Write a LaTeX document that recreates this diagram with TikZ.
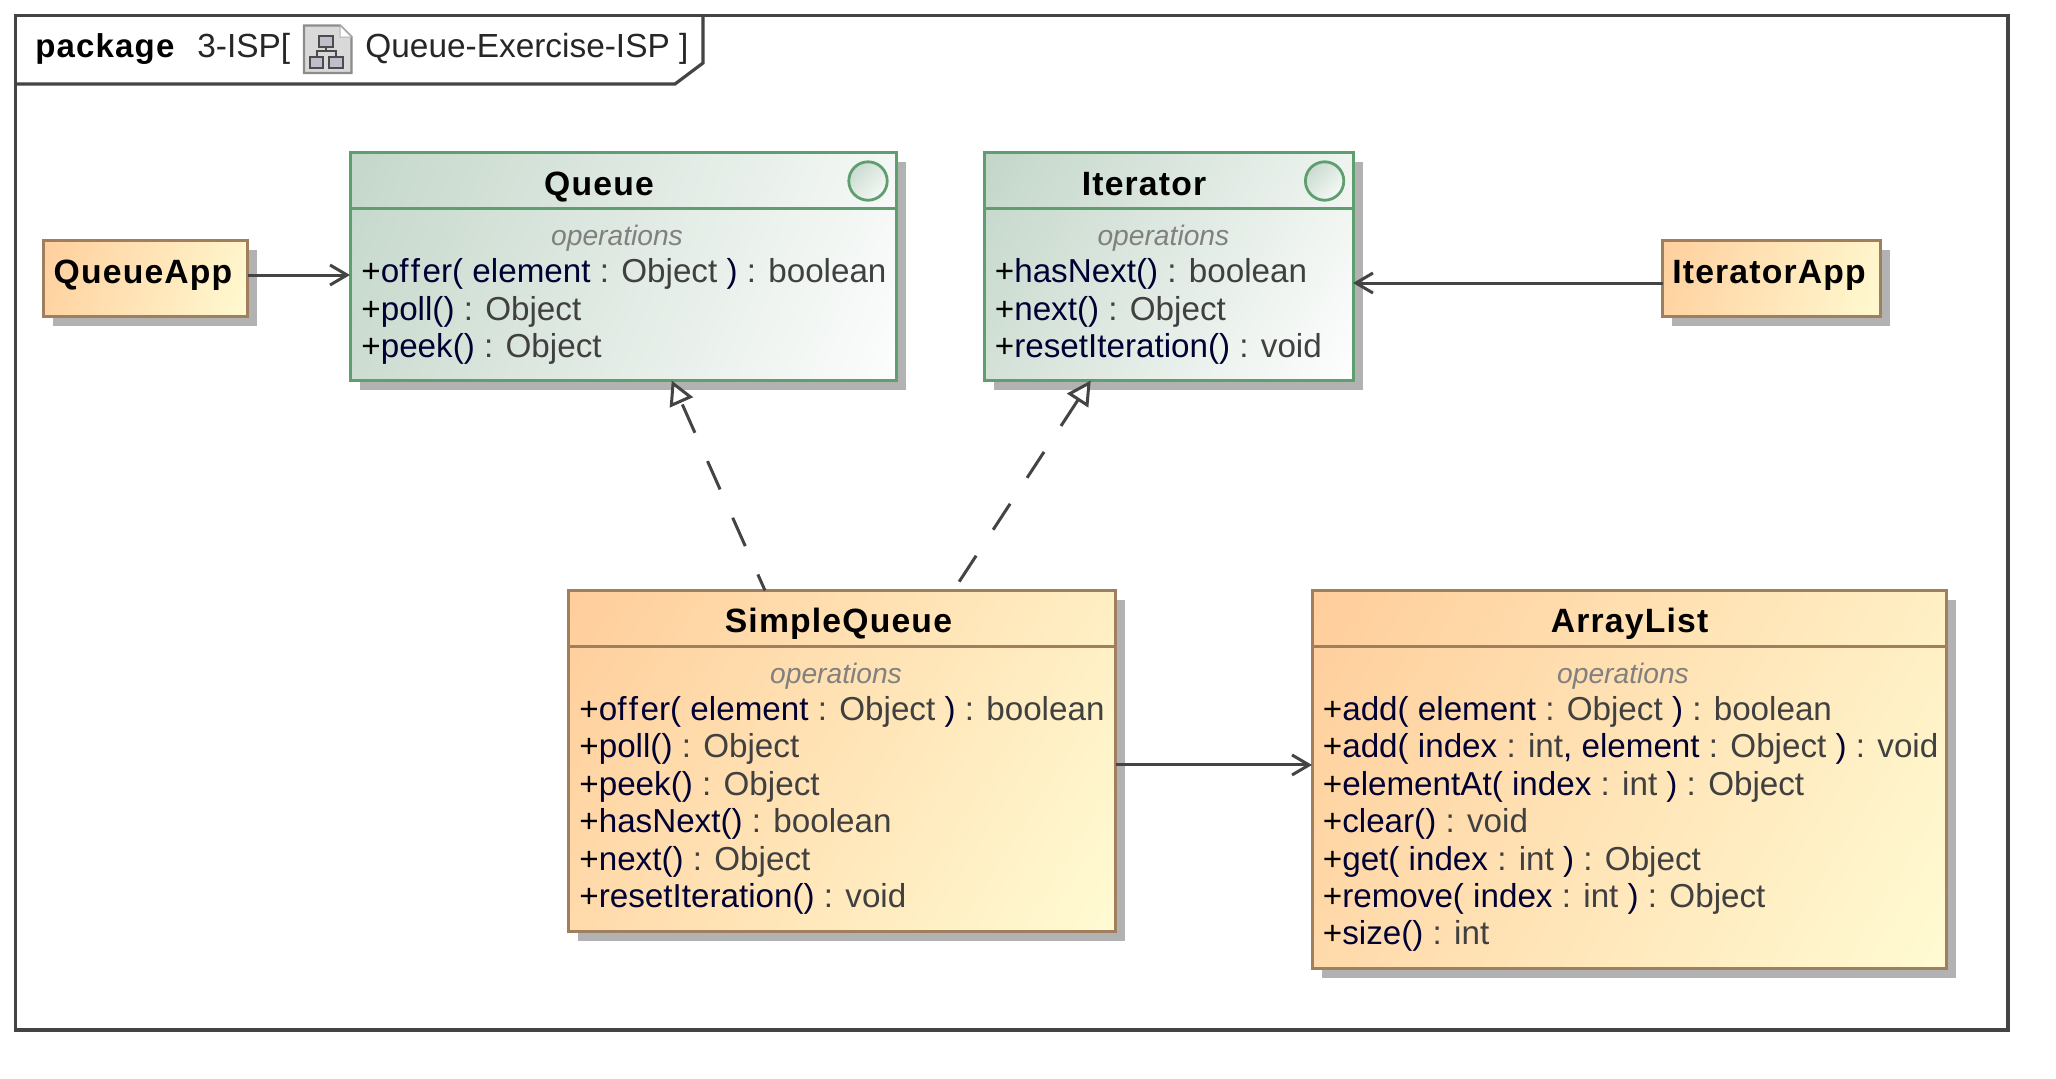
\documentclass[tikz,border=0pt]{standalone}
\usepackage{fontspec}
\setmainfont{Liberation Sans}
\newfontfamily\titlefont[LetterSpace=3.5]{Liberation Sans Bold}
\usetikzlibrary{arrows.meta,shadows}
\definecolor{framegray}{HTML}{444444}
\definecolor{typegray}{HTML}{404040}
\definecolor{opnavy}{HTML}{000033}
\definecolor{opsgray}{HTML}{808080}
\definecolor{shadowgray}{HTML}{B2B2B2}
\definecolor{orangeline}{HTML}{A07F5F}
\definecolor{orangedark}{HTML}{FFCB98}
\definecolor{orangelight}{HTML}{FFFCD4}
\definecolor{greenline}{HTML}{5F9E6E}
\definecolor{greendark}{HTML}{C0D4C6}
\pgfdeclareverticalshading{orangefill}{100bp}{color(0bp)=(orangelight); color(14bp)=(orangelight); color(88bp)=(orangedark); color(100bp)=(orangedark)}
\pgfdeclareverticalshading{greenfill}{100bp}{color(0bp)=(white); color(14bp)=(white); color(88bp)=(greendark); color(100bp)=(greendark)}
\newcommand{\nm}[1]{\textcolor{opnavy}{#1}}
\newcommand{\pl}{\textcolor{black}{+}}
\newcommand{\offerword}{of\kern1.2pt f\kern1.3pt er}
\begin{document}
\begin{tikzpicture}[%
      x=0.5pt,y=-0.5pt,
      umlbox/.style={rectangle,anchor=north west,outer sep=0pt,inner sep=0pt,line width=1.5pt,
        drop shadow={shadow xshift=4.75pt,shadow yshift=-4.75pt,fill=shadowgray,opacity=1}},
      orangebox/.style={umlbox,draw=orangeline,shade,shading=orangefill},
      greenbox/.style={umlbox,draw=greenline,shade,shading=greenfill},
      ifacemark/.style={circle,draw=greenline,line width=1.4pt,minimum size=19.2pt,inner sep=0pt,
        shade,shading=greenfill,shading angle=45},
      classtitle/.style={anchor=base,inner sep=0pt,font=\titlefont\fontsize{16.85}{18.7}\selectfont},
      opslabel/.style={anchor=base,inner sep=0pt,text=opsgray,font=\itshape\fontsize{14.1}{16}\selectfont},
      opslist/.style={anchor=north west,inner sep=0pt,align=left,text=typegray,font=\fontsize{16.6}{18.7}\selectfont},
      headtext/.style={anchor=base west,inner sep=0pt,text=black!85,font=\fontsize{16.7}{18}\selectfont},
      assoc/.style={draw=framegray,line width=1.5pt,-{Straight Barb[length=8.5pt,width=10pt]}},
      realize/.style={draw=framegray,line width=1.5pt,dash pattern=on 15.5pt off 15.5pt,
        -{Triangle[open,fill=white,length=12pt,width=12.5pt]}},
      ]
      \fill [white] (0,0) rectangle (2056,1078);
      \useasboundingbox (0,0) rectangle (2056,1078);

      % package frame
      \draw [color=framegray, line width=1.6pt] (15.7,15.7) rectangle (2008,1030);
      \draw [color=framegray, line width=1.6pt] (15.7,84) -- (675,84) -- (703,63) -- (703,15.7);

      \node (pkgword) [headtext, text=black, font=\titlefont\fontsize{16.5}{18}\selectfont] at (35,57) {package};
      \node (pkgname) [headtext] at (197,57) {3-ISP[};
      \node (pkgtitle) [headtext] at (365,57) {Queue-Exercise-ISP ]};

      % diagram icon
      \filldraw [fill=black!15, draw=black!45, line width=1.1pt] (304,25.5) -- (340,25.5) -- (351.5,37) -- (351.5,73) -- (304,73) -- cycle;
      \filldraw [fill=white, draw=black!30, line width=0.5pt] (340,25.5) -- (351.5,37) -- (340,37) -- cycle;
      \draw [color=black!70, line width=1pt] (326,46.7) -- (326,51) (316.7,56.7) -- (316.7,51) -- (336,51) -- (336,56.7);
      \filldraw [fill=blue!20!black!25, draw=black!70, line width=1.1pt] (319,35.7) rectangle (333.3,46.7);
      \filldraw [fill=blue!20!black!25, draw=black!70, line width=1.1pt] (310,56.7) rectangle (323.3,68.3);
      \filldraw [fill=blue!20!black!25, draw=black!70, line width=1.1pt] (329.3,56.7) rectangle (342.7,68.3);

      % classes
      \node (queueapp) [orangebox, shading angle=69.6, minimum width=102pt, minimum height=38pt] at (43.5,240) {};
      \node (iteratorapp) [orangebox, shading angle=70.8, minimum width=109pt, minimum height=38pt] at (1662.5,240) {};
      \node (queue) [greenbox, shading angle=67.3, minimum width=273pt, minimum height=114pt] at (350,152.5) {};
      \node (iterator) [greenbox, shading angle=58.3, minimum width=184.5pt, minimum height=114pt] at (984,152.5) {};
      \node (simplequeue) [orangebox, shading angle=58, minimum width=273.5pt, minimum height=170.25pt] at (568.5,590.5) {};
      \node (arraylist) [orangebox, shading angle=59, minimum width=317pt, minimum height=189pt] at (1312,590.5) {};

      \draw [color=greenline, line width=1.5pt] ([yshift=-28.2pt]queue.north west) -- ([yshift=-28.2pt]queue.north east);
      \draw [color=greenline, line width=1.5pt] ([yshift=-28.2pt]iterator.north west) -- ([yshift=-28.2pt]iterator.north east);
      \draw [color=orangeline, line width=1.5pt] ([yshift=-28.2pt]simplequeue.north west) -- ([yshift=-28.2pt]simplequeue.north east);
      \draw [color=orangeline, line width=1.5pt] ([yshift=-28.2pt]arraylist.north west) -- ([yshift=-28.2pt]arraylist.north east);

      \node (queuemark) [ifacemark] at (868,181) {};
      \node (iteratormark) [ifacemark] at (1324.6,181) {};

      \node (queueapptitle) [classtitle] at (143,283) {QueueApp};
      \node (iteratorapptitle) [classtitle] at (1769,283) {IteratorApp};
      \node (queuetitle) [classtitle] at (599,195.5) {Queue};
      \node (iteratortitle) [classtitle] at (1144,195.5) {Iterator};
      \node (simplequeuetitle) [classtitle] at (838.4,632) {SimpleQueue};
      \node (arraylisttitle) [classtitle] at (1629.6,632) {ArrayList};

      \node (queueops) [opslabel] at (617,245.5) {operations};
      \node (iteratorops) [opslabel] at (1163.4,245.5) {operations};
      \node (simplequeueops) [opslabel] at (836,683) {operations};
      \node (arraylistops) [opslabel] at (1623,683) {operations};

      \node (queuelist) [opslist] at (361,258.5) {\pl\nm{\offerword( element} : Object \nm{)} : boolean\\
        \pl\nm{poll()} : Object\\
        \pl\nm{peek()} : Object};
      \node (iteratorlist) [opslist] at (994.5,258.5) {\pl\nm{hasNext()} : boolean\\
        \pl\nm{next()} : Object\\
        \pl\nm{resetIteration()} : void};
      \node (simplequeuelist) [opslist] at (579,696) {\pl\nm{\offerword( element} : Object \nm{)} : boolean\\
        \pl\nm{poll()} : Object\\
        \pl\nm{peek()} : Object\\
        \pl\nm{hasNext()} : boolean\\
        \pl\nm{next()} : Object\\
        \pl\nm{resetIteration()} : void};
      \node (arraylistlist) [opslist] at (1322.5,696) {\pl\nm{add( element} : Object \nm{)} : boolean\\
        \pl\nm{add( index} : int\nm{, element} : Object \nm{)} : void\\
        \pl\nm{elementAt( index} : int \nm{)} : Object\\
        \pl\nm{clear()} : void\\
        \pl\nm{get( index} : int \nm{)} : Object\\
        \pl\nm{remove( index} : int \nm{)} : Object\\
        \pl\nm{size()} : int};

      % connectors
      \draw [assoc] ([yshift=1.5pt]queueapp.east) -- ([yshift=1.5pt]queueapp.east -| queue.west);
      \draw [assoc] ([yshift=-2.5pt]iteratorapp.west) -- ([yshift=-2.5pt]iteratorapp.west -| iterator.east);
      \draw [assoc] ([yshift=-2.1pt]simplequeue.east) -- ([yshift=-2.1pt]simplequeue.east -| arraylist.west);
      \draw [realize, dash phase=6.7pt] ([xshift=98.25pt]simplequeue.north west) -- ([xshift=160.85pt]queue.south west);
      \draw [realize, dash phase=25.7pt] ([xshift=192.45pt]simplequeue.north west) -- ([xshift=53.35pt]iterator.south west);
\end{tikzpicture}
\end{document}
